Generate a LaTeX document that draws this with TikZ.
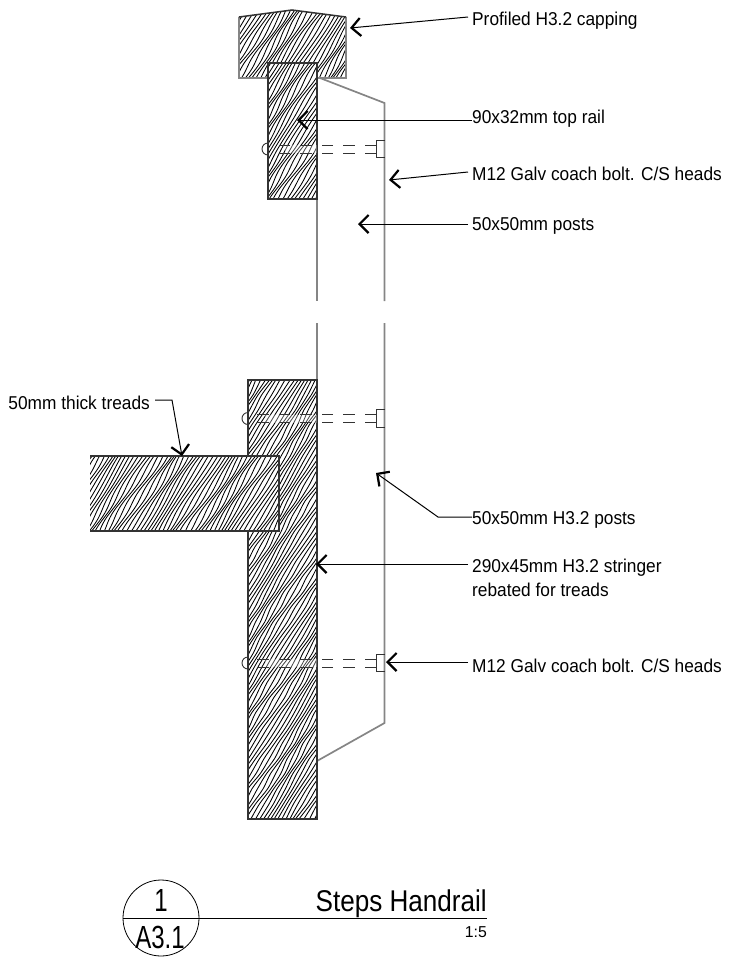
\documentclass[tikz,border=0pt]{standalone}
\usepackage{fontspec}
\setmainfont{Liberation Sans}
\newfontfamily\notefont[FakeStretch=0.93]{Liberation Sans}
\newfontfamily\titlefont[FakeStretch=0.87]{Liberation Sans}
\newfontfamily\markfont[FakeStretch=0.75]{Liberation Sans}
\usepackage{tikz}
\usetikzlibrary{arrows.meta, positioning, calc}
\definecolor{postgrey}{HTML}{858585}
\definecolor{inkdark}{HTML}{333333}

% timber grain inside a rectangle: left, top, right, bottom
\newcommand{\woodhatch}[4]{
    \begin{scope}
        \clip (#1,#2) rectangle (#3,#4);
        \pgfmathsetmacro{\hatchrun}{(#4-#2)*0.62}
        \pgfmathsetmacro{\hatchfrom}{#1-\hatchrun-6}
        \pgfmathsetmacro{\hatchnext}{\hatchfrom+3.9}
        \foreach \c in {\hatchfrom,\hatchnext,...,#3} {
            \draw[grain] plot[domain=#2:#4, samples=30, smooth]
                ({\c+(#4-\x)*0.62+1.0*sin(\x*7+\c*13)+1.1*sin(\x*2.5-\c*6)+0.5*sin(\x*9+\c*17)}, {\x});
        }
    \end{scope}
}
% one coach bolt: left end of shank, centre height
\newcommand{\coachbolt}[2]{
    \fill[white, opacity=0.3] (#1+17,#2-4) rectangle (317,#2+4);
    \draw[boltline] (#1,#2+6) arc[start angle=90, end angle=270, radius=6];
    \draw[boltline, dash pattern=on 11.5pt off 10pt] (376,#2-4) -- (#1,#2-4);
    \draw[boltline, dash pattern=on 11.5pt off 10pt] (376,#2+4) -- (#1,#2+4);
    \draw[boltline] (385,#2-9) -- (376,#2-9) -- (376,#2+8.5) -- (385,#2+8.5);
}

\begin{document}
\begin{tikzpicture}[
    x=1pt, y=-1pt,
    grain/.style={draw=black, line width=0.85pt},
    timber/.style={draw=inkdark, line width=1.5pt},
    postline/.style={draw=postgrey, line width=1.7pt},
    boltline/.style={draw=inkdark, line width=0.9pt},
    note/.style={anchor=base west, inner sep=0pt, font=\notefont\fontsize{18.6}{23.4}\selectfont, align=left},
    line/.style={draw=black, line width=1pt},
    pointer/.style={line, -{Straight Barb[length=9pt, width=18pt, line width=2.2pt]}}
]
    \useasboundingbox (0,0) rectangle (731,967);

    % capping
    \begin{scope}
        \clip (239,17) -- (292,10) -- (346,17) -- (346,78) -- (239,78) -- cycle;
        \woodhatch{239}{8}{346}{78}
    \end{scope}
    \draw[postline] (346,17) -- (346,78) -- (239,78) -- (239,17);
    \draw[timber] (239,17) -- (292,10) -- (346,17);

    % posts
    \draw[postline] (317,199) -- (317,301);
    \draw[postline] (317,323) -- (317,380);
    \draw[postline] (320,78) -- (384.5,103) -- (384.5,301);
    \draw[postline] (384.5,323) -- (384.5,723) -- (317,761);

    % top rail
    \fill[white] (268,63) rectangle (317,199);
    \woodhatch{268}{63}{317}{199}
    \draw[timber] (268,63) rectangle (317,199);

    % stringer and tread
    \woodhatch{248}{380}{317}{819}
    \draw[timber] (248,380) rectangle (317,819);
    \fill[white] (90,456) rectangle (279,531);
    \woodhatch{90}{456}{279}{531}
    \draw[timber] (90,456) -- (279,456) -- (279,531) -- (90,531);

    % bolts
    \coachbolt{268}{149}
    \coachbolt{248}{418.5}
    \coachbolt{248}{663}

    % notes
    \node[note] (Capping) at (472,25.7) {Profiled H3.2 capping};
    \node[note] (Rail) at (472,123) {90x32mm top rail};
    \node[note] (BoltTop) at (472,180) {M12 Galv coach bolt. C/S heads};
    \node[note] (PostsTop) at (472,230) {50x50mm posts};
    \node[note, anchor=base east] (Treads) at (150,409) {50mm thick treads};
    \node[note] (PostsLow) at (472,524) {50x50mm H3.2 posts};
    \node[note] (Stringer) at (472,596) {290x45mm H3.2 stringer\\rebated for treads};
    \node[note] (BoltLow) at (472,672) {M12 Galv coach bolt. C/S heads};

    \coordinate (CappingTip) at (350,28);
    \coordinate (RailTip) at (297,120);
    \coordinate (BoltTopTip) at (389,180);
    \coordinate (PostsTopTip) at (358,224);
    \coordinate (TreadsKnee) at (172,400);
    \coordinate (TreadsTip) at (182,456);
    \coordinate (PostsKnee) at (438,517);
    \coordinate (PostsLowTip) at (376,473);
    \coordinate (StringerTip) at (316,564);
    \coordinate (BoltLowTip) at (386,662);

    \draw[pointer] (Capping.base west |- 0,17) ++(-4,0) -- (CappingTip);
    \draw[pointer] (Rail.west |- RailTip) -- (RailTip);
    \draw[pointer] (BoltTop.base west |- 0,172) ++(-4,0) -- (BoltTopTip);
    \draw[pointer] (PostsTop.base west |- PostsTopTip) ++(-4,0) -- (PostsTopTip);
    \draw[pointer] (Treads.base east |- TreadsKnee) ++(5,0) -- (TreadsKnee) -- (TreadsTip);
    \draw[pointer] (PostsLow.base west |- PostsKnee) -- (PostsKnee) -- (PostsLowTip);
    \draw[pointer] (Stringer.base west |- StringerTip) ++(-4,0) -- (StringerTip);
    \draw[pointer] (BoltLow.base west |- BoltLowTip) ++(-4,0) -- (BoltLowTip);

    % title block
    \node[draw=black, circle, line width=0.8pt, minimum size=76pt, inner sep=0pt] (Mark) at (161,918) {};
    \node[anchor=base, font=\markfont\fontsize{32}{32}\selectfont, inner sep=0pt] (MarkNum) at (161,911.5) {1};
    \node[anchor=base, font=\markfont\fontsize{32}{32}\selectfont, inner sep=0pt] (MarkSheet) at (160,948) {A3.1};
    \node[anchor=base east, font=\titlefont\fontsize{30}{30}\selectfont, inner sep=0pt] (Title) at (487,911) {Steps Handrail};
    \node[anchor=base east, font=\fontsize{15.8}{15.8}\selectfont, inner sep=0pt] (Scale) at (487,937.7) {1:5};
    \draw[line] (Mark.west) -- (Title.base east |- Mark.west);
\end{tikzpicture}
\end{document}
